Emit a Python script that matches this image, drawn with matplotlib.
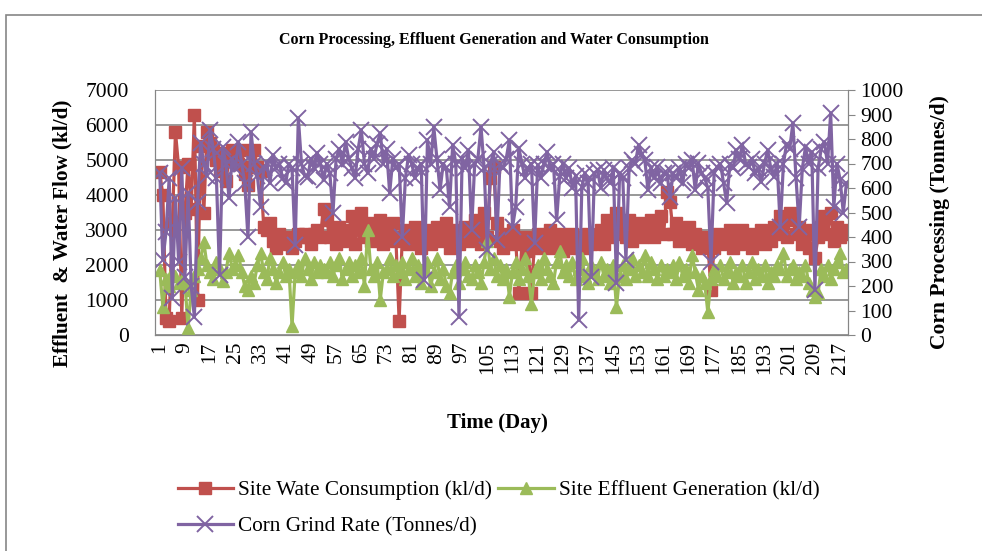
import matplotlib.pyplot as plt
import matplotlib.patches as patches

# daily values (day 1 .. 219)
days = list(range(1, 220))

# site water consumption (kl/d), left axis
water = [4650, 4000, 500, 400, 3200, 5800, 4800, 500, 3500, 4900,
         3600, 6300, 1000, 5400, 3500, 5800, 5500, 5300, 5000, 4700,
         5200, 4400, 5000, 5300, 5200, 4900, 5300, 4600, 4300, 4800,
         5300, 4800, 4700, 3100, 3000, 3200, 2700, 2500, 2900, 2700,
         2800, 2600, 2500, 2700, 2900, 2800, 2900, 2800, 2600, 2900,
         3000, 2800, 3600, 3300, 2800, 3000, 2600, 3100, 2700, 2900,
         3000, 3400, 2600, 3100, 3500, 2800, 3200, 2700, 3100, 2900,
         3300, 2600, 3000, 2800, 3200, 2700, 400, 2800, 3000, 2600,
         2900, 3100, 2700, 2500, 2900, 3000, 2600, 2800, 3100, 2700,
         2900, 3200, 2500, 2800, 3000, 2600, 2900, 3100, 2700, 2800,
         3300, 3000, 2600, 3500, 2800, 4500, 4800, 3200, 2700, 2500,
         2900, 2600, 3000, 2700, 1200, 2600, 2800, 2400, 1200, 2700,
         2900, 2500, 2800, 2600, 3000, 2500, 2700, 2900, 2400, 2700,
         2600, 2900, 2500, 2700, 2800, 2500, 2900, 2600, 2800, 2700,
         3000, 2600, 3300, 2800, 3100, 3500, 2900, 3200, 2800, 3300,
         2700, 3000, 3200, 2800, 3100, 2900, 3300, 2800, 3100, 3400,
         2900, 4100, 3800, 2900, 3200, 2700, 3000, 2800, 3100, 2600,
         2900, 2700, 2500, 2800, 2600, 1300, 2500, 2900, 2600, 2800,
         2700, 3000, 2500, 2800, 2600, 3000, 2700, 2900, 2500, 2800,
         2700, 3000, 2600, 2800, 2700, 3100, 2900, 3400, 3200, 2800,
         3500, 3300, 2900, 3100, 2600, 2900, 2500, 3000, 2200, 2800,
         3100, 3400, 2900, 3500, 2700, 3100, 2800, 3000, 2900]

# site effluent generation (kl/d), left axis
effluent = [1850, 800, 1600, 1400, 1800, 1700, 1500, 1600, 1500, 200,
            1300, 1700, 1900, 2200, 2650, 2000, 1800, 1600, 2100, 1900,
            1550, 1800, 2350, 1900, 2000, 2300, 1800, 1400, 1300, 1700,
            1500, 2000, 2350, 1800, 1600, 2200, 1900, 1500, 1800, 2100,
            1700, 1900, 250, 1800, 2000, 1700, 2200, 1900, 1600, 2100,
            1800, 2000, 1900, 1800, 2100, 1700, 2000, 2200, 1600, 1900,
            2100, 1700, 2000, 1800, 2200, 1400, 3000, 1900, 1700, 2100,
            1000, 1800, 1900, 2200, 1700, 2000, 1800, 2100, 1600, 1900,
            2200, 1700, 2000, 1500, 1900, 2100, 1400, 1800, 2200, 1600,
            1900, 1400, 1200, 1800, 2000, 1500, 1900, 2100, 1700, 1600,
            2000, 1800, 1500, 2100, 2700, 1900, 2200, 1700, 2000, 1600,
            1900, 1100, 1800, 2100, 1600, 1900, 2200, 1700, 900, 1800,
            2000, 1600, 2200, 1900, 1700, 1500, 2100, 2400, 1800, 2000,
            1700, 2100, 1600, 1900, 2200, 1700, 1500, 2000, 1800, 1600,
            2100, 1700, 1900, 1500, 2000, 800, 1700, 2000, 1600, 1900,
            2200, 1700, 2000, 1800, 2300, 1700, 2100, 1900, 1600, 2000,
            1700, 1900, 1800, 2000, 1600, 2100, 1700, 1900, 1500, 2300,
            1800, 1300, 1700, 1500, 650, 1600, 1900, 1700, 2000, 1600,
            1800, 2100, 1500, 1800, 1700, 2000, 1500, 1800, 2100, 1600,
            1900, 1700, 2000, 1500, 1800, 1700, 2000, 1900, 2350, 1700,
            1900, 2000, 1600, 1800, 1700, 2000, 1500, 1300, 1100, 1200,
            1900, 1700, 2000, 1600, 1900, 2100, 2350, 1800, 1900]

# corn grind rate (tonnes/d), right axis
corn = [661, 306, 420, 640, 151, 560, 300, 682, 237, 580,
        200, 73, 543, 784, 700, 650, 837, 760, 640, 245,
        767, 700, 559, 720, 680, 788, 700, 620, 400, 829,
        700, 650, 522, 680, 702, 620, 735, 680, 700, 640,
        620, 700, 680, 367, 886, 700, 650, 645, 720, 680,
        743, 700, 633, 700, 660, 498, 720, 760, 700, 788,
        720, 680, 641, 760, 837, 700, 661, 760, 720, 780,
        824, 700, 760, 580, 720, 680, 700, 400, 640, 735,
        700, 640, 680, 700, 224, 796, 700, 849, 720, 592,
        700, 680, 522, 776, 700, 73, 720, 680, 755, 429,
        700, 720, 849, 680, 347, 700, 747, 388, 700, 680,
        720, 796, 441, 522, 763, 700, 640, 680, 700, 376,
        694, 640, 700, 747, 680, 700, 469, 650, 700, 640,
        682, 600, 650, 61, 604, 660, 620, 237, 660, 673,
        600, 673, 640, 620, 680, 212, 661, 640, 306, 680,
        714, 700, 776, 740, 714, 592, 680, 640, 686, 620,
        660, 661, 563, 660, 640, 680, 620, 700, 680, 714,
        592, 702, 660, 640, 600, 298, 660, 686, 700, 620,
        539, 700, 680, 755, 720, 776, 700, 686, 720, 660,
        680, 624, 700, 755, 680, 645, 700, 441, 700, 780,
        760, 865, 640, 441, 680, 767, 700, 747, 184, 680,
        760, 788, 700, 906, 522, 700, 633, 500, 620]

tick_days = list(range(1, 218, 8))

red = '#C0504D'
green = '#9BBB59'
purple = '#8064A2'
grey = '#868686'

plt.rcParams['font.family'] = 'Liberation Serif'

fig = plt.figure(figsize=(9.82, 5.51), dpi=100)

# chart area border
fig.patches.append(patches.Rectangle((6/982, -0.05), 1.0, 1 - 15/551 + 0.05,
                                     transform=fig.transFigure, fill=False,
                                     edgecolor=grey, linewidth=1.2))

ax = fig.add_axes([155/982, 1 - 335/551, (848 - 155)/982, 245/551])
ax2 = ax.twinx()

l1, = ax.plot(days, water, color=red, lw=2.3, marker='s', ms=8,
              label='Site Wate Consumption (kl/d)')
l2, = ax.plot(days, effluent, color=green, lw=2.3, marker='^', ms=9,
              label='Site Effluent Generation (kl/d)')
l3, = ax2.plot(days, corn, color=purple, lw=2.3, marker='x', ms=11, mew=1.4,
               label='Corn Grind Rate (Tonnes/d)')

ax.set_ylim(0, 7000)
ax.set_yticks(range(0, 7001, 1000))
ax2.set_ylim(0, 1000)
ax2.set_yticks(range(0, 1001, 100))
ax.set_xlim(-0.5, 219.5)
ax.set_xticks(tick_days)
ax.set_xticklabels([str(d) for d in tick_days], rotation=90, fontsize=15.5)

ax.grid(axis='y', color=grey, lw=1.2)
ax.set_axisbelow(True)
for a in (ax, ax2):
    for s in a.spines.values():
        s.set_color(grey)
    a.spines['top'].set_visible(False)
ax.tick_params(axis='x', length=0, pad=5)
ax.tick_params(axis='y', length=0, labelsize=15.5, pad=19)
ax2.tick_params(axis='y', length=5, color=grey, labelsize=15.5, pad=4)

fig.text(0.503, 0.927, 'Corn Processing, Effluent Generation and Water Consumption',
         ha='center', va='center', fontsize=11.5, fontweight='bold')
fig.text(62/982, 1 - 233/551, 'Effluent  & Water Flow (kl/d)', rotation=90,
         ha='center', va='center', fontsize=15.2, fontweight='bold')
fig.text(940/982, 1 - 222/551, 'Corn Processing (Tonnes/d)', rotation=90,
         ha='center', va='center', fontsize=15.5, fontweight='bold')
fig.text(497/982, 1 - 423/551, 'Time (Day)', ha='center', va='center',
         fontsize=15, fontweight='bold')

fig.legend(handles=[l1, l3, l2], ncol=2, loc='upper left',
           bbox_to_anchor=(169/982, 1 - 472/551), frameon=False, fontsize=15.3,
           handlelength=2.6, handletextpad=0.25, columnspacing=0.3,
           labelspacing=0.75, borderaxespad=0)

fig.savefig('out.png', dpi=100)
